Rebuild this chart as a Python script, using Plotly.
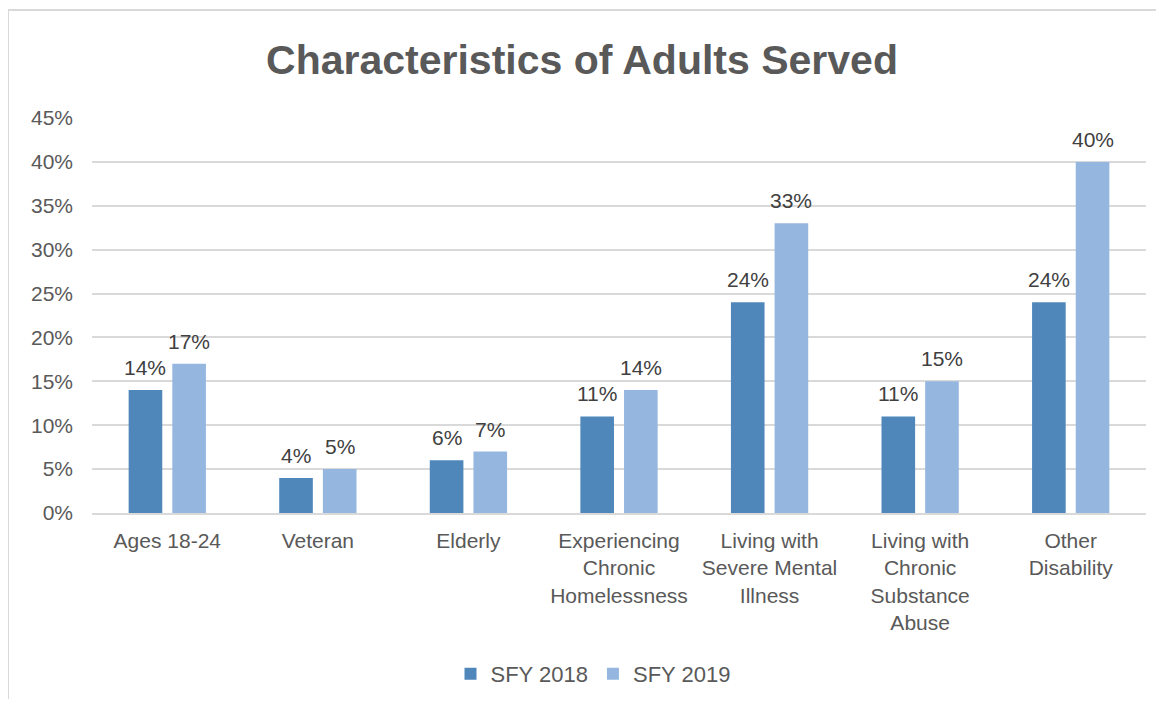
import plotly.graph_objects as go

categories = ["Ages 18-24", "Veteran", "Elderly", "Experiencing<br>Chronic<br>Homelessness",
              "Living with<br>Severe Mental<br>Illness", "Living with<br>Chronic<br>Substance<br>Abuse",
              "Other<br>Disability"]
sfy2018 = [0.14, 0.04, 0.06, 0.11, 0.24, 0.11, 0.24]
sfy2019 = [0.17, 0.05, 0.07, 0.14, 0.33, 0.15, 0.40]
series_names = ["SFY 2018", "SFY 2019"]
y_ticks = [0, 0.05, 0.10, 0.15, 0.20, 0.25, 0.30, 0.35, 0.40, 0.45]

FONT = "Liberation Sans, Arial, sans-serif"
OFF = 8  # page body margin
W, H = 1164 - 2 * OFF, 707 - 2 * OFF
ML, MT = 92 - OFF, 118 - OFF
MR = W - (1146 - OFF)
MB = H - (513 - OFF)
BARGAP, GROUPGAP = 0.42, 0.23

pw = W - ML - MR
ph = H - MT - MB
slot = pw / len(categories) * (1 - BARGAP) / 2

fig = go.Figure()
series = [(series_names[0], sfy2018, "#4F87BB", -slot / 2), (series_names[1], sfy2019, "#95B7DF", slot / 2)]
for name, vals, col, dx in series:
    fig.add_trace(go.Bar(
        x=categories, y=vals, name=name, marker=dict(color=col, line=dict(width=0)),
    ))
    for c, v in zip(categories, vals):
        fig.add_annotation(x=c, y=v, xref="x", yref="y", text=f"{v:.0%}", showarrow=False,
                           xshift=dx, yanchor="bottom", yshift=9,
                           font=dict(family=FONT, size=21, color="#404040"))

fig.add_shape(type="rect", xref="paper", yref="paper",
              x0=(8 - OFF - ML) / pw, x1=(W + 30 - ML) / pw,
              y0=(H - MB - (H + 30)) / ph, y1=(H - MB - (10 - OFF)) / ph,
              line=dict(color="#D9D9D9", width=2), fillcolor="rgba(0,0,0,0)", layer="below")

fig.update_layout(
    width=W, height=H,
    margin=dict(l=ML, r=MR, t=MT, b=MB, autoexpand=False),
    paper_bgcolor="white", plot_bgcolor="white",
    barmode="group", bargap=BARGAP, bargroupgap=GROUPGAP,
    title=dict(text="<b>Characteristics of Adults Served</b>", x=0.5, xanchor="center",
               y=1 - (60 - OFF) / H, yanchor="middle",
               font=dict(family=FONT, size=41, color="#595959")),
    legend=dict(orientation="h", x=0.5 - 26 / pw, xanchor="center", y=(H - MB - (674 - OFF)) / ph, yanchor="middle",
                font=dict(family=FONT, size=22, color="#595959"), itemwidth=30,
                traceorder="normal"),
    hovermode=False,
    xaxis=dict(showline=True, linecolor="#D9D9D9", linewidth=1.5, showgrid=False,
               tickfont=dict(family=FONT, size=21, color="#595959"), ticks="", ticklabelstandoff=8),
    yaxis=dict(range=[0, 0.45], tickvals=y_ticks, tickformat=".0%", showgrid=True,
               gridcolor="#D9D9D9", gridwidth=1.5, zeroline=False, showline=False,
               tickfont=dict(family=FONT, size=21, color="#595959"), ticklabelstandoff=18),
)

fig.write_html("out.html")
